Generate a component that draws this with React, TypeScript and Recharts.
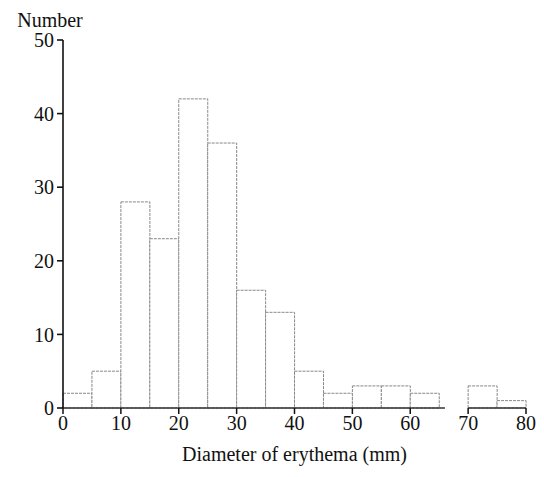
import { Bar, BarChart, ReferenceLine, XAxis, YAxis } from "recharts";

const binStarts = [0, 5, 10, 15, 20, 25, 30, 35, 40, 45, 50, 55, 60, 65, 70, 75];
const counts = [2, 5, 28, 23, 42, 36, 16, 13, 5, 2, 3, 3, 2, 0, 3, 1];
const xTicks = [0, 10, 20, 30, 40, 50, 60, 70, 80];
const yTicks = [0, 10, 20, 30, 40, 50];

const data = binStarts.map((start, i) => ({ mid: start + 2.5, count: counts[i] }));

const font = "'Liberation Serif', 'Times New Roman', serif";
const tickStyle = { fill: "#111", fontSize: 20, fontFamily: font };

function NumberLabel({ viewBox }: any) {
  // sits just left of the axis top, like the scanned figure
  return (
    <text
      x={viewBox.x + viewBox.width - 13}
      y={viewBox.y - 13}
      textAnchor="middle"
      fill="#111"
      fontSize={20}
      fontFamily={font}
    >
      Number
    </text>
  );
}

export default function App() {
  return (
    <div style={{ position: "absolute", left: 0, top: 0, background: "#fff" }}>
      <BarChart
        width={544}
        height={477}
        data={data}
        barCategoryGap={0}
        margin={{ top: 40, right: 18, bottom: 0, left: 0 }}
      >
        <XAxis
          dataKey="mid"
          type="number"
          domain={[0, 80]}
          ticks={xTicks}
          interval={0}
          height={69}
          axisLine={false}
          tickLine={{ stroke: "#111", strokeWidth: 1.5 }}
          tickSize={6}
          tickMargin={2}
          tick={tickStyle}
          label={{
            value: "Diameter of erythema (mm)",
            position: "insideBottom",
            offset: 16,
            style: { fill: "#111", fontSize: 20, fontFamily: font },
          }}
        />
        <YAxis
          type="number"
          domain={[0, 50]}
          ticks={yTicks}
          interval={0}
          width={63}
          axisLine={{ stroke: "#111", strokeWidth: 1.6 }}
          tickLine={{ stroke: "#111", strokeWidth: 1.6 }}
          tickSize={6}
          tickMargin={3}
          tick={tickStyle}
          label={{ content: NumberLabel }}
        />
        <Bar
          dataKey="count"
          fill="#fff"
          stroke="#888"
          strokeWidth={1}
          strokeDasharray="3 1"
          isAnimationActive={false}
        />
        <ReferenceLine
          segment={[{ x: 0, y: 0 }, { x: 66, y: 0 }]}
          stroke="#333"
          strokeWidth={1.3}
          ifOverflow="visible"
        />
        <ReferenceLine
          segment={[{ x: 70, y: 0 }, { x: 80, y: 0 }]}
          stroke="#333"
          strokeWidth={1.3}
          ifOverflow="visible"
        />
      </BarChart>
    </div>
  );
}
